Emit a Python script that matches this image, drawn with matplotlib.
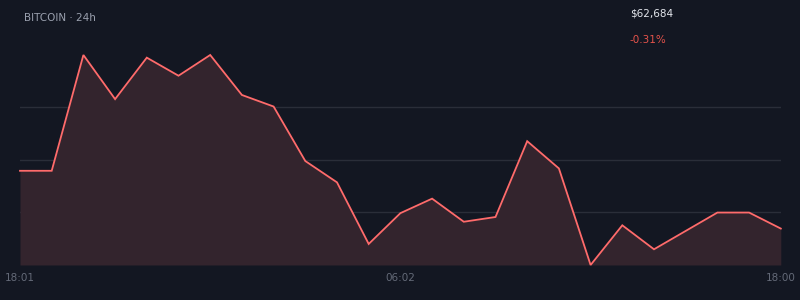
import matplotlib.pyplot as plt
import numpy as np

# hourly BTC prices over 24h
prices = [62879, 62879, 63270, 63121, 63261, 63200, 63270, 63135, 63096,
          62912, 62840, 62632, 62736, 62785, 62707, 62723, 62979, 62887,
          62561, 62695, 62614, 62676, 62738, 62738, 62684]
tick_pos = [0, 12, 24]
tick_labels = ["18:01", "06:02", "18:00"]
title = "BITCOIN · 24h"
last_price = "$62,684"
change = "-0.31%"

bg = "#131722"
line_c = "#ff6b6b"
fill_c = "#33242d"
grid_c = "#2a2e39"

fig = plt.figure(figsize=(8, 3), dpi=100, facecolor=bg)
ax = fig.add_axes([0.025, 0.1167, 0.951, 0.70])
ax.set_facecolor(bg)

x = np.arange(len(prices))
lo, hi = min(prices), max(prices)
ax.fill_between(x, prices, lo, color=fill_c, lw=0)
ax.plot(x, prices, color=line_c, lw=1.3, clip_on=False, solid_joinstyle="miter")

ax.set_xlim(0, len(prices) - 1)
ax.set_ylim(lo, hi)
ax.set_yticks([lo + (hi - lo) * k / 4 for k in (1, 2, 3)])
ax.yaxis.grid(True, color=grid_c, lw=1)
ax.set_axisbelow(True)
ax.tick_params(left=False, labelleft=False, bottom=False)
ax.set_xticks(tick_pos)
ax.set_xticklabels(tick_labels, color="#646a78", fontsize=7.5,
                   fontfamily="Liberation Sans Narrow")
ax.tick_params(axis="x", pad=2)
for s in ax.spines.values():
    s.set_visible(False)

fig.text(24 / 800, 1 - 18 / 300, title, color="#9aa0ae", fontsize=7.5,
         va="center", ha="left")
fig.text(630 / 800, 1 - 14 / 300, last_price, color="#e3e6ec", fontsize=7.5,
         va="center", ha="left")
fig.text(630 / 800, 1 - 40 / 300, change, color="#e5534b", fontsize=7.5,
         va="center", ha="left")

fig.savefig("out.png", dpi=100, facecolor=bg)
